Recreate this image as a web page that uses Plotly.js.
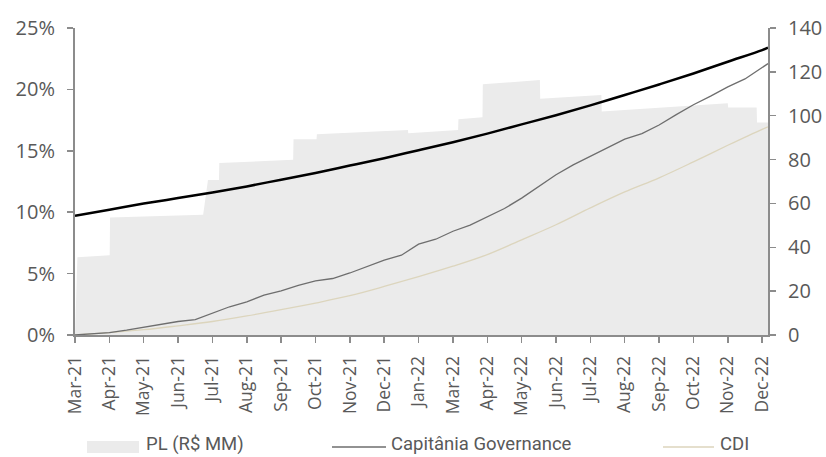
<!DOCTYPE html>
<html>
<head>
<meta charset="utf-8">
<script src="https://cdn.plot.ly/plotly-3.0.1.min.js"></script>
<style>
  html, body { margin: 0; padding: 0; background: #fff; }
  #chart { width: 826px; height: 457px; }
</style>
</head>
<body>
<div id="chart"></div>
<script>
// tick labels (one every ~month, Feb-22 is skipped in the original)
var months = ['Mar-21','Apr-21','May-21','Jun-21','Jul-21','Aug-21','Sep-21','Oct-21','Nov-21','Dec-21',
              'Jan-22','Mar-22','Apr-22','May-22','Jun-22','Jul-22','Aug-22','Sep-22','Oct-22','Nov-22','Dec-22'];
var tickPos = [0,1,2,3,4,5,6,7,8,9,10,11,12,13,14,15,16,17,18,19,20];

// x positions in "tick" units
var xHalf = [0,0.5,1,1.5,2,2.5,3,3.5,4,4.5,5,5.5,6,6.5,7,7.5,8,8.5,9,9.5,10,10.5,
             11,11.5,12,12.5,13,13.5,14,14.5,15,15.5,16,16.5,17,17.5,18,18.5,19,19.5,20,20.17];
var xTick = [0,1,2,3,4,5,6,7,8,9,10,11,12,13,14,15,16,17,18,19,20,20.17];

// Capitânia Governance, cumulative %
var capitania = [0,0.1,0.2,0.4,0.65,0.85,1.1,1.25,1.8,2.3,2.7,3.25,3.6,4.05,4.4,4.6,5.05,5.6,6.1,6.5,7.4,7.8,
                 8.45,8.95,9.65,10.3,11.15,12.1,13.05,13.85,14.55,15.3,15.95,16.4,17.1,17.95,18.75,19.45,20.2,20.85,21.8,22.1];

// CDI, cumulative %
var cdi = [0,0.2,0.43,0.75,1.1,1.55,2.06,2.6,3.2,3.95,4.75,5.6,6.55,7.75,8.98,10.35,11.65,12.8,14.1,15.45,16.75,16.95];

// thick black curve (not in legend)
var blackLine = [9.7,10.2,10.7,11.15,11.6,12.1,12.65,13.2,13.8,14.4,15.05,15.7,16.4,17.15,17.9,18.7,19.55,20.4,21.3,22.25,23.2,23.4];

// PL (R$ MM), right axis
var plX = [0,0.07,1.01,1.02,3.73,3.87,4.19,4.2,6.35,6.36,7.03,7.04,9.69,9.7,11.15,11.16,11.86,11.87,
           13.53,13.54,15.32,15.33,19.0,19.01,19.84,19.85,20.17];
var plY = [0,35.5,36.4,53.6,54.8,70.7,70.7,78.4,79.9,89.3,89.3,91.6,93.5,92.0,93.5,98.4,99.3,114.3,
           116.3,107.7,109.5,101.9,105.7,103.7,103.7,96.9,96.9];

var txt = '#595959';
var axc = '#8c8c8c';
var fnt = 'Open Sans, Lato, sans-serif';
var legFnt = 'Roboto, sans-serif';

var tracePL = {
  x: plX, y: plY, yaxis: 'y',
  type: 'scatter', mode: 'lines',
  line: {width: 0, color: '#ebebeb'},
  fill: 'tozeroy', fillcolor: '#ebebeb',
  name: 'PL (R$ MM)', hoverinfo: 'skip'
};
var traceBlack = {
  x: xTick, y: blackLine, yaxis: 'y2',
  type: 'scatter', mode: 'lines',
  line: {color: '#000000', width: 2.5, shape: 'spline'},
  name: ''
};
var traceCdi = {
  x: xTick, y: cdi, yaxis: 'y2',
  type: 'scatter', mode: 'lines',
  line: {color: '#dcd5bd', width: 1.3, shape: 'spline'},
  name: 'CDI'
};
var traceCap = {
  x: xHalf, y: capitania, yaxis: 'y2',
  type: 'scatter', mode: 'lines',
  line: {color: '#6e6e6e', width: 1.3},
  name: 'Capitânia Governance'
};

var data = [tracePL, traceCdi, traceCap, traceBlack];

// legend drawn by hand (pixel -> paper helpers)
function px(x){ return (x - 75) / 693; }
function py(y){ return (335 - y) / 307; }
var legY = 447;
var legTxtY = 444;

var layout = {
  width: 826, height: 457,
  margin: {l: 75, r: 58, t: 28, b: 122},
  paper_bgcolor: '#ffffff', plot_bgcolor: '#ffffff',
  showlegend: false,
  font: {family: fnt, color: txt},
  xaxis: {
    range: [0, 20.17], tickmode: 'array', tickvals: tickPos, ticktext: months,
    tickangle: -90, ticks: 'outside', ticklen: 6, tickwidth: 1.5, tickcolor: axc,
    showline: true, linecolor: axc, linewidth: 2, showgrid: false, zeroline: false,
    tickfont: {size: 17.5, color: txt, family: fnt}, ticklabelstandoff: 6
  },
  yaxis: {
    side: 'right', range: [0, 140], dtick: 20,
    ticks: 'outside', ticklen: 6, tickwidth: 1.5, tickcolor: axc,
    showline: true, linecolor: axc, linewidth: 2, showgrid: false, zeroline: false,
    tickfont: {size: 20, color: txt, family: fnt}, ticklabelstandoff: 8
  },
  yaxis2: {
    overlaying: 'y', side: 'left', range: [0, 25], dtick: 5, ticksuffix: '%',
    ticks: 'outside', ticklen: 6, tickwidth: 1.5, tickcolor: axc,
    showline: true, linecolor: axc, linewidth: 2, showgrid: false, zeroline: false,
    tickfont: {size: 20, color: txt, family: fnt}, ticklabelstandoff: 8
  },
  shapes: [
    {type: 'rect', xref: 'paper', yref: 'paper', x0: px(87), x1: px(139), y0: py(441), y1: py(453),
     fillcolor: '#ebebeb', line: {width: 0}},
    {type: 'line', xref: 'paper', yref: 'paper', x0: px(332), x1: px(386), y0: py(legY), y1: py(legY),
     line: {color: '#6e6e6e', width: 1.3}},
    {type: 'line', xref: 'paper', yref: 'paper', x0: px(663), x1: px(714), y0: py(legY), y1: py(legY),
     line: {color: '#dcd5bd', width: 1.3}}
  ],
  annotations: [
    {text: 'PL (R$ MM)', xref: 'paper', yref: 'paper', x: px(145), y: py(legTxtY), xanchor: 'left', yanchor: 'middle',
     showarrow: false, borderpad: 0, font: {size: 18.5, color: txt, family: legFnt}},
    {text: 'Capitânia Governance', xref: 'paper', yref: 'paper', x: px(390), y: py(legTxtY), xanchor: 'left', yanchor: 'middle',
     showarrow: false, borderpad: 0, font: {size: 18.5, color: txt, family: legFnt}},
    {text: 'CDI', xref: 'paper', yref: 'paper', x: px(719), y: py(legTxtY), xanchor: 'left', yanchor: 'middle',
     showarrow: false, borderpad: 0, font: {size: 18.5, color: txt, family: legFnt}}
  ]
};

Plotly.newPlot('chart', data, layout, {displayModeBar: false, staticPlot: true});
</script>
</body>
</html>
